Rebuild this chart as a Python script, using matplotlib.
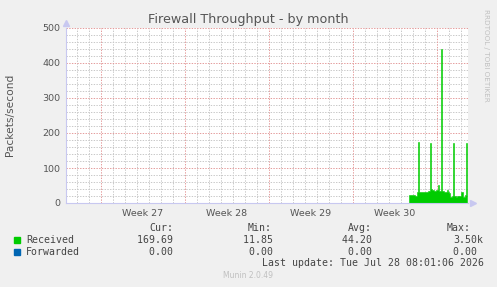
import numpy as np
import matplotlib
matplotlib.use('Agg')
import matplotlib.pyplot as plt
from matplotlib.patches import Rectangle

# 时间轴：以天为单位，0 = Week 27 开始
week_labels = ['Week 27', 'Week 28', 'Week 29', 'Week 30']
week_starts = [0, 7, 14, 21, 28]
x_min, x_max = -2.917, 30.58

# Received 数据：2 小时一个点
recv_start = 25.67
received = [22, 22, 24, 24, 22, 22, 20, 20,
            30, 175, 32, 30, 30, 31, 30, 30, 32, 31, 30, 33,
            35, 170, 40, 36, 38, 35, 34, 38, 36, 50, 35, 33,
            440, 35, 33, 30, 32, 30, 36, 30, 28,
            18, 17, 20, 170, 20, 19, 18, 20, 21, 20, 19,
            30, 32, 18, 17, 22, 170]
forwarded = [0.0] * len(received)

legend_names = ['Received', 'Forwarded']
legend_colors = ['#00CC00', '#0066B3']
stat_heads = ['Cur:', 'Min:', 'Avg:', 'Max:']
stat_rows = [['169.69 ', '11.85 ', '44.20 ', '3.50k'],
             ['0.00 ', '0.00 ', '0.00 ', '0.00 ']]

W, H = 497, 287
fig = plt.figure(figsize=(W / 100, H / 100), dpi=100, facecolor='#F0F0F0')
L, R, T, B = 66, 468, 28, 203
ax = fig.add_axes([L / W, 1 - B / H, (R - L) / W, (B - T) / H], facecolor='#FFFFFF')

# 网格
grid_ls = (0, (1.4, 1.4))
for d in np.arange(-2, 31, 1):
    if d in week_starts:
        continue
    ax.axvline(d, color='#c8c8c8', lw=0.7, ls=grid_ls, zorder=1)
for y in range(20, 501, 20):
    if y % 100:
        ax.axhline(y, color='#c8c8c8', lw=0.7, ls=grid_ls, zorder=1)
for d in week_starts:
    ax.axvline(d, color='#e49a9a', lw=0.7, ls=grid_ls, zorder=1)
for y in range(100, 501, 100):
    ax.axhline(y, color='#e49a9a', lw=0.7, ls=grid_ls, zorder=1)

# 数据
xs = recv_start + np.arange(len(received) + 1) / 12.0
ax.fill_between(xs, 0, received + [received[-1]], step='post', color='#00CC00',
                edgecolor='#00CC00', lw=0.4, zorder=3)

ax.set_xlim(x_min, x_max)
ax.set_ylim(0, 500)
for s in ['top', 'right']:
    ax.spines[s].set_visible(False)
for s in ['left', 'bottom']:
    ax.spines[s].set_color('#c8c8f0')
    ax.spines[s].set_linewidth(0.8)
    ax.spines[s].set_zorder(4)
ax.plot([1 + 5 / 402], [0], marker='>', ms=5, color='#c8c8f0', transform=ax.transAxes, clip_on=False, zorder=5)
ax.plot([0], [1 + 5 / 175], marker='^', ms=5, color='#c8c8f0', transform=ax.transAxes, clip_on=False, zorder=5)

ax.set_yticks(range(0, 501, 100))
ax.set_xticks([d + 3.5 for d in week_starts[:-1]])
ax.set_xticklabels(week_labels)
ax.tick_params(axis='both', length=0, labelsize=6.8, labelcolor='#555555', pad=4)

fig.text(248 / W, 1 - 19 / H, 'Firewall Throughput - by month', ha='center', va='center',
         fontsize=9.2, color='#555555')
fig.text(10 / W, 1 - 115 / H, 'Packets/second', rotation=90, ha='center', va='center',
         fontsize=7.7, color='#555555')
fig.text(486 / W, 1 - 55 / H, 'RRDTOOL / TOBI OETIKER', rotation=270, ha='center', va='center',
         fontsize=5.2, color='#c0c0c0')

# 图例与统计
mono = 'DejaVu Sans Mono'
fs = 7.1
cw = 5.96
head_x = [149, 248, 348, 447]
for hx, h in zip(head_x, stat_heads):
    fig.text(hx / W, 1 - 228 / H, h, family=mono, fontsize=fs, color='#444444', va='center')
val_right = [179, 279, 378, 483]
for ri, (name, col, row) in enumerate(zip(legend_names, legend_colors, stat_rows)):
    yy = 240 + ri * 11.7
    fig.patches.append(Rectangle((14 / W, 1 - (yy + 3) / H), 6 / W, 6 / H,
                                 transform=fig.transFigure, color=col))
    fig.text(26 / W, 1 - yy / H, name, family=mono, fontsize=fs, color='#444444', va='center')
    for vr, v in zip(val_right, row):
        fig.text((vr - len(v) * cw) / W, 1 - yy / H, v, family=mono, fontsize=fs,
                 color='#444444', va='center')
last = 'Last update: Tue Jul 28 08:01:06 2026'
fig.text((483 - len(last) * cw) / W, 1 - 263 / H, last, family=mono, fontsize=fs,
         color='#444444', va='center')
fig.text(248 / W, 1 - 276 / H, 'Munin 2.0.49', ha='center', va='center', fontsize=5.5, color='#c0c0c0')

fig.savefig('out.png', dpi=100, facecolor='#F0F0F0')
